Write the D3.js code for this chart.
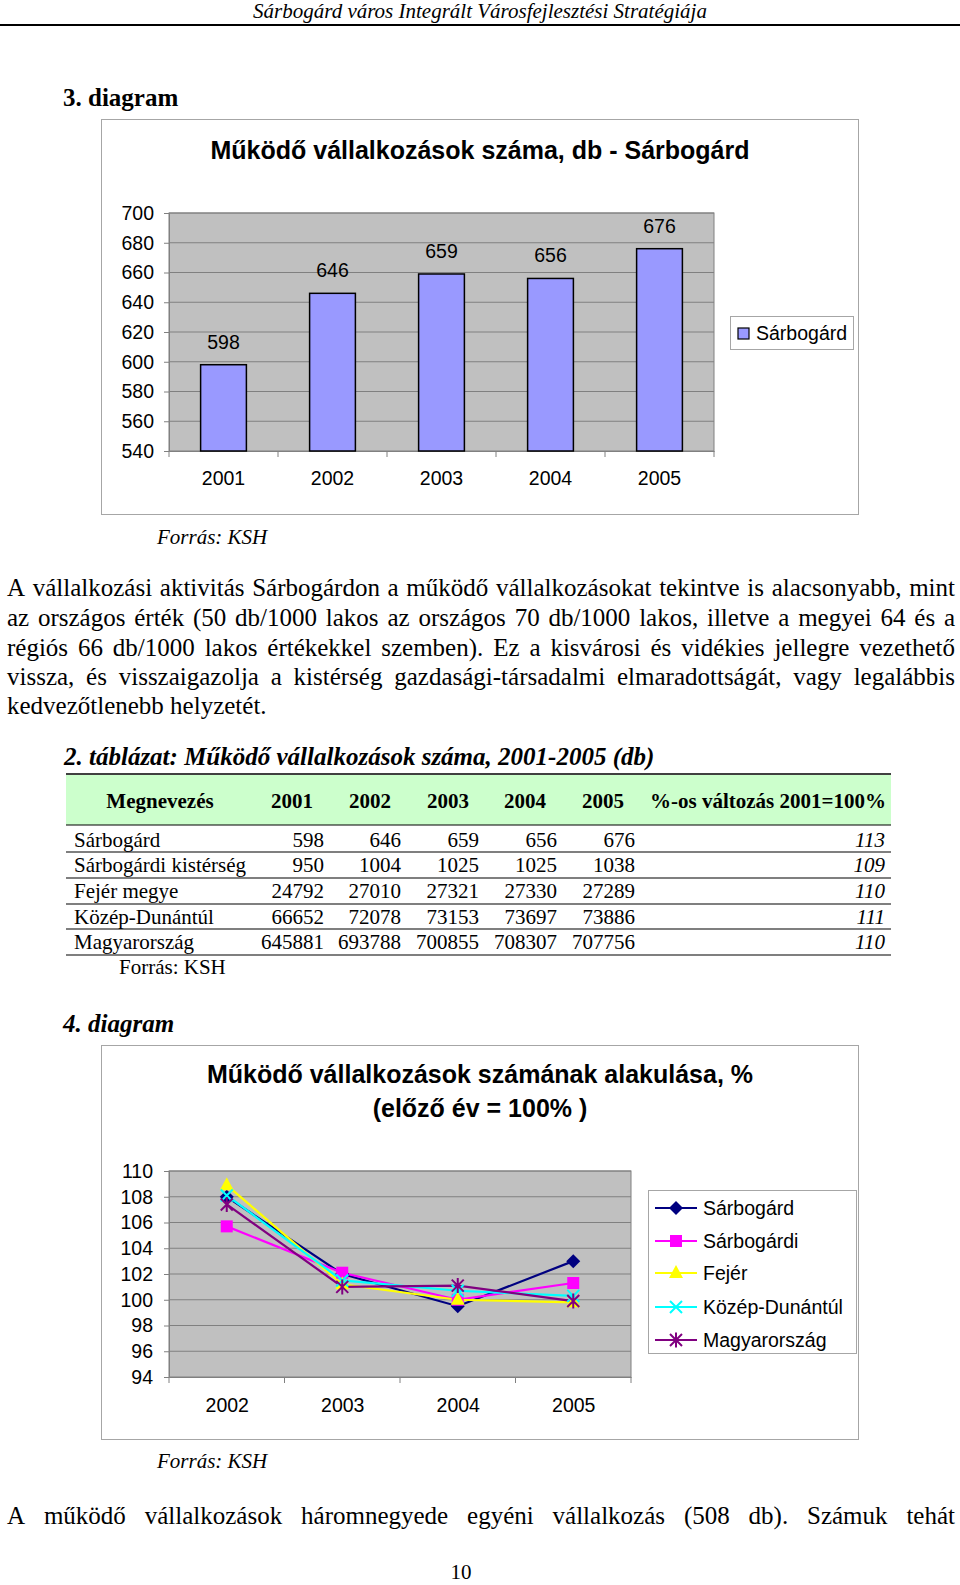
<!DOCTYPE html>
<html><head><meta charset="utf-8">
<script src="https://cdn.jsdelivr.net/npm/d3@7"></script>
<style>body{margin:0;background:#fff}svg{display:block}</style>
</head><body><svg id="page" width="960" height="1585"></svg>
<script>
// ---------- DATA ----------
const headerText = "Sárbogárd város Integrált Városfejlesztési Stratégiája";
const chart1Label = "3. diagram";
const chart1Title = "Működő vállalkozások száma, db - Sárbogárd";
const barYears = ["2001", "2002", "2003", "2004", "2005"];
const barValues = [598, 646, 659, 656, 676];
const barTicks = [540, 560, 580, 600, 620, 640, 660, 680, 700];
const barSeriesName = "Sárbogárd";
const sourceText = "Forrás: KSH";

const para1Lines = [
  "A vállalkozási aktivitás Sárbogárdon a működő vállalkozásokat tekintve is alacsonyabb, mint",
  "az országos érték (50 db/1000 lakos az országos 70 db/1000 lakos, illetve a megyei 64 és a",
  "régiós 66 db/1000 lakos értékekkel szemben). Ez a kisvárosi és vidékies jellegre vezethető",
  "vissza, és visszaigazolja a kistérség gazdasági-társadalmi elmaradottságát, vagy legalábbis",
  "kedvezőtlenebb helyzetét."
];

const tableCaption = "2. táblázat: Működő vállalkozások száma, 2001-2005 (db)";
const tableHeader = ["Megnevezés", "2001", "2002", "2003", "2004", "2005", "%-os változás 2001=100%"];
const tableNames = ["Sárbogárd", "Sárbogárdi kistérség", "Fejér megye", "Közép-Dunántúl", "Magyarország"];
const tableValues = [
  [598, 646, 659, 656, 676],
  [950, 1004, 1025, 1025, 1038],
  [24792, 27010, 27321, 27330, 27289],
  [66652, 72078, 73153, 73697, 73886],
  [645881, 693788, 700855, 708307, 707756]
];
const tableChange = [113, 109, 110, 111, 110];

const chart2Label = "4. diagram";
const chart2TitleLines = ["Működő vállalkozások számának alakulása, %", "(előző év = 100% )"];
const lineYears = ["2002", "2003", "2004", "2005"];
const lineNames = ["Sárbogárd", "Sárbogárdi", "Fejér", "Közép-Dunántúl", "Magyarország"];
const lineSarbogard = [108.0, 102.0, 99.5, 103.0];
const lineSarbogardi = [105.7, 102.1, 100.0, 101.3];
const lineFejer = [108.9, 101.2, 100.0, 99.8];
const lineKozepDunantul = [108.1, 101.5, 100.7, 100.3];
const lineMagyarorszag = [107.4, 101.0, 101.1, 99.9];
const lineTicks = [94, 96, 98, 100, 102, 104, 106, 108, 110];

const para2Line = "A működő vállalkozások háromnegyede egyéni vállalkozás (508 db). Számuk tehát";
const pageNumber = "10";

// ---------- DRAW ----------
const svg = d3.select("#page");
svg.append("rect").attr("width", 960).attr("height", 1585).attr("fill", "#fff");
const SERIF = "'Liberation Serif','Times New Roman',serif";
const SANS = "'Liberation Sans',Arial,sans-serif";

function txt(x, y, s, size, opts = {}) {
  return svg.append("text").attr("x", x).attr("y", y).text(s)
    .attr("font-family", opts.family || SERIF).attr("font-size", size)
    .attr("font-weight", opts.weight || "normal").attr("font-style", opts.style || "normal")
    .attr("text-anchor", opts.anchor || "start").attr("fill", opts.fill || "#000");
}
function justified(str, x0, x1, y, size) {
  const words = str.split(" ");
  const g = svg.append("g");
  const nodes = words.map(w => g.append("text").text(w).attr("y", y)
    .attr("font-family", SERIF).attr("font-size", size));
  const widths = nodes.map(n => n.node().getComputedTextLength());
  const total = d3.sum(widths);
  const gap = (x1 - x0 - total) / (words.length - 1);
  let x = x0;
  nodes.forEach((n, i) => { n.attr("x", x); x += widths[i] + gap; });
}

// header
txt(480, 18, headerText, 21, {style: "italic", anchor: "middle"});
svg.append("line").attr("x1", 0).attr("x2", 960).attr("y1", 25).attr("y2", 25)
  .attr("stroke", "#000").attr("stroke-width", 2);

// ---------- CHART 1 ----------
txt(63, 106, chart1Label, 25, {weight: "bold"});
svg.append("rect").attr("x", 101.5).attr("y", 119.5).attr("width", 757).attr("height", 395)
  .attr("fill", "#fff").attr("stroke", "#a6a6a6").attr("stroke-width", 1);
txt(480, 159, chart1Title, 25, {family: SANS, weight: "bold", anchor: "middle"});

const p1 = {l: 169, r: 714, t: 213, b: 451};
const x1 = d3.scaleBand().domain(barYears).range([p1.l, p1.r]).paddingInner(0.58).paddingOuter(0.29);
const y1 = d3.scaleLinear().domain([540, 700]).range([p1.b, p1.t]);
svg.append("rect").attr("x", p1.l).attr("y", p1.t).attr("width", p1.r - p1.l).attr("height", p1.b - p1.t)
  .attr("fill", "#c0c0c0").attr("stroke", "#808080");
const gy1 = svg.append("g").attr("transform", `translate(${p1.l},0)`)
  .call(d3.axisLeft(y1).tickValues(barTicks).tickSize(5).tickPadding(10));
gy1.select(".domain").attr("stroke", "#808080");
gy1.selectAll(".tick line").attr("stroke", "#808080");
gy1.selectAll(".tick text").attr("font-family", SANS).attr("font-size", 19.5).attr("fill", "#000");
svg.append("g").selectAll("line").data(barTicks.slice(1)).join("line")
  .attr("x1", p1.l).attr("x2", p1.r).attr("y1", d => y1(d)).attr("y2", d => y1(d))
  .attr("stroke", "#808080");
const gx1 = svg.append("g").attr("transform", `translate(0,${p1.b})`)
  .call(d3.axisBottom(x1).tickSize(0).tickPadding(20));
gx1.select(".domain").attr("stroke", "#808080");
gx1.selectAll(".tick text").attr("font-family", SANS).attr("font-size", 19.5).attr("fill", "#000");
svg.append("g").selectAll("line").data(d3.range(barYears.length + 1)).join("line")
  .attr("x1", i => p1.l + i * x1.step()).attr("x2", i => p1.l + i * x1.step())
  .attr("y1", p1.b).attr("y2", p1.b + 6).attr("stroke", "#808080");
svg.append("g").selectAll("rect").data(barYears).join("rect")
  .attr("x", (d) => x1(d)).attr("width", x1.bandwidth())
  .attr("y", (d, i) => y1(barValues[i])).attr("height", (d, i) => p1.b - y1(barValues[i]))
  .attr("fill", "#9999ff").attr("stroke", "#000").attr("stroke-width", 1.5);
svg.append("g").selectAll("text").data(barYears).join("text")
  .attr("x", d => x1(d) + x1.bandwidth() / 2).attr("y", (d, i) => y1(barValues[i]) - 16)
  .attr("text-anchor", "middle").attr("font-family", SANS).attr("font-size", 19.5)
  .text((d, i) => barValues[i]);
// legend 1
svg.append("rect").attr("x", 730.5).attr("y", 316.5).attr("width", 123).attr("height", 33)
  .attr("fill", "#fff").attr("stroke", "#a6a6a6");
svg.append("rect").attr("x", 738).attr("y", 328).attr("width", 11).attr("height", 11)
  .attr("fill", "#9999ff").attr("stroke", "#000").attr("stroke-width", 1.2);
txt(756, 340, barSeriesName, 19.5, {family: SANS});

txt(157, 544, sourceText, 21, {style: "italic"});

// paragraph 1
const para1Base = [596, 626, 656, 685, 714];
para1Lines.forEach((l, i) => {
  if (i < para1Lines.length - 1) justified(l, 7, 955, para1Base[i], 25);
  else txt(7, para1Base[i], l, 25);
});

// ---------- TABLE ----------
txt(64, 765, tableCaption, 25, {weight: "bold", style: "italic"});
const tL = 66, tR = 891;
svg.append("rect").attr("x", tL).attr("y", 775).attr("width", tR - tL).attr("height", 50).attr("fill", "#ccffcc");
const hLines = [774, 825, 852, 878, 904, 929, 955];
svg.append("g").selectAll("line").data(hLines).join("line")
  .attr("x1", tL).attr("x2", tR).attr("y1", d => d).attr("y2", d => d)
  .attr("stroke", "#000").attr("stroke-width", (d, i) => i === 0 ? 1.5 : 1.2);
const hdrX = [160, 292, 370, 448, 525, 603, 768];
tableHeader.forEach((h, i) => txt(hdrX[i], 808, h, 21, {weight: "bold", anchor: "middle"}));
const colR = [324, 401, 479, 557, 635];
const rowBase = [847, 872, 898, 924, 949];
tableNames.forEach((n, r) => {
  txt(74, rowBase[r], n, 21);
  tableValues[r].forEach((v, c) => txt(colR[c], rowBase[r], String(v), 21, {anchor: "end"}));
  txt(885, rowBase[r], String(tableChange[r]), 21, {anchor: "end", style: "italic"});
});
txt(119, 974, sourceText, 21);

// ---------- CHART 2 ----------
txt(63, 1032, chart2Label, 25, {weight: "bold", style: "italic"});
svg.append("rect").attr("x", 101.5).attr("y", 1045.5).attr("width", 757).attr("height", 394)
  .attr("fill", "#fff").attr("stroke", "#a6a6a6");
txt(480, 1083, chart2TitleLines[0], 25, {family: SANS, weight: "bold", anchor: "middle"});
txt(480, 1117, chart2TitleLines[1], 25, {family: SANS, weight: "bold", anchor: "middle"});

const p2 = {l: 169, r: 631, t: 1171, b: 1377};
const x2 = d3.scalePoint().domain(lineYears).range([p2.l, p2.r]).padding(0.5);
const y2 = d3.scaleLinear().domain([94, 110]).range([p2.b, p2.t]);
const step2 = (p2.r - p2.l) / lineYears.length;
svg.append("rect").attr("x", p2.l).attr("y", p2.t).attr("width", p2.r - p2.l).attr("height", p2.b - p2.t)
  .attr("fill", "#c0c0c0").attr("stroke", "#808080");
svg.append("g").selectAll("line").data(lineTicks.slice(1)).join("line")
  .attr("x1", p2.l).attr("x2", p2.r).attr("y1", d => y2(d)).attr("y2", d => y2(d))
  .attr("stroke", "#808080");
const gy2 = svg.append("g").attr("transform", `translate(${p2.l},0)`)
  .call(d3.axisLeft(y2).tickValues(lineTicks).tickSize(5).tickPadding(11));
gy2.select(".domain").attr("stroke", "#808080");
gy2.selectAll(".tick line").attr("stroke", "#808080");
gy2.selectAll(".tick text").attr("font-family", SANS).attr("font-size", 19.5).attr("fill", "#000");
const gx2 = svg.append("g").attr("transform", `translate(0,${p2.b})`)
  .call(d3.axisBottom(x2).tickSize(0).tickPadding(21));
gx2.select(".domain").attr("stroke", "#808080");
gx2.selectAll(".tick text").attr("font-family", SANS).attr("font-size", 19.5).attr("fill", "#000");
svg.append("g").selectAll("line").data(d3.range(lineYears.length + 1)).join("line")
  .attr("x1", i => p2.l + i * step2).attr("x2", i => p2.l + i * step2)
  .attr("y1", p2.b).attr("y2", p2.b + 6).attr("stroke", "#808080");

const lineData = [lineSarbogard, lineSarbogardi, lineFejer, lineKozepDunantul, lineMagyarorszag];
const lineColors = ["#000080", "#ff00ff", "#ffff00", "#00ffff", "#800080"];
const lineMarkers = ["diamond", "square", "triangle", "x", "asterisk"];
function marker(g, type, color, cx, cy) {
  if (type === "diamond") g.append("path").attr("d", `M${cx},${cy-7}L${cx+7},${cy}L${cx},${cy+7}L${cx-7},${cy}Z`).attr("fill", color);
  else if (type === "square") g.append("rect").attr("x", cx - 6).attr("y", cy - 6).attr("width", 12).attr("height", 12).attr("fill", color);
  else if (type === "triangle") g.append("path").attr("d", `M${cx},${cy-8}L${cx+7},${cy+5}L${cx-7},${cy+5}Z`).attr("fill", color);
  else if (type === "x") g.append("path").attr("d", `M${cx-6},${cy-6}L${cx+6},${cy+6}M${cx+6},${cy-6}L${cx-6},${cy+6}`).attr("stroke", color).attr("stroke-width", 2);
  else g.append("path").attr("d", `M${cx-6},${cy-6}L${cx+6},${cy+6}M${cx+6},${cy-6}L${cx-6},${cy+6}M${cx},${cy-7.5}L${cx},${cy+7.5}`).attr("stroke", color).attr("stroke-width", 2);
}
const line = d3.line().x((d, i) => x2(lineYears[i])).y(d => y2(d));
lineData.forEach((vals, s) => {
  svg.append("path").datum(vals).attr("d", line).attr("fill", "none")
    .attr("stroke", lineColors[s]).attr("stroke-width", 2.2);
});
lineData.forEach((vals, s) => {
  const g = svg.append("g");
  vals.forEach((v, i) => marker(g, lineMarkers[s], lineColors[s], x2(lineYears[i]), y2(v)));
});
// legend 2
svg.append("rect").attr("x", 648.5).attr("y", 1190.5).attr("width", 208).attr("height", 163)
  .attr("fill", "#fff").attr("stroke", "#a6a6a6");
const legY = [1208, 1241, 1273, 1307, 1340];
lineNames.forEach((n, s) => {
  const g = svg.append("g");
  g.append("line").attr("x1", 655).attr("x2", 697).attr("y1", legY[s]).attr("y2", legY[s])
    .attr("stroke", lineColors[s]).attr("stroke-width", 2.2);
  marker(g, lineMarkers[s], lineColors[s], 676, legY[s]);
  txt(703, legY[s] + 7, n, 19.5, {family: SANS});
});

txt(157, 1468, sourceText, 21, {style: "italic"});
justified(para2Line, 7, 955, 1524, 25);
txt(461, 1579, pageNumber, 21, {anchor: "middle"});
</script>
</body></html>
